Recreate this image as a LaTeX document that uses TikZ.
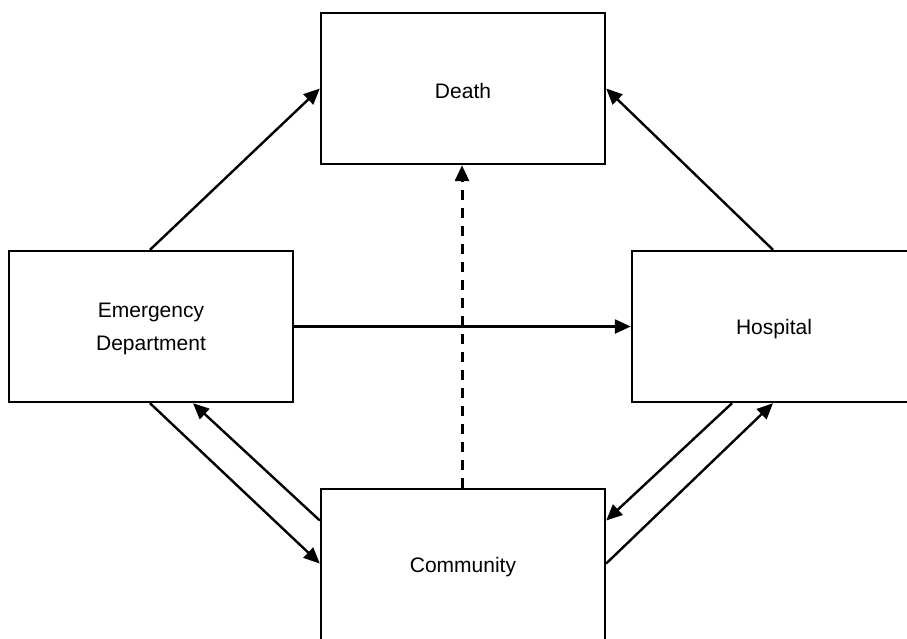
\documentclass[tikz,border=0pt]{standalone}
\usepackage{fontspec}
\setmainfont{Liberation Sans}
\usetikzlibrary{arrows.meta,calc}
\newcommand{\dn}[1]{\raisebox{-2.5pt}[\height][\depth]{#1}}
\tikzset{
  statebox/.style={draw=black, line width=2.4pt, minimum width=284pt, minimum height=151pt,
    inner sep=0pt, align=center, font=\fontsize{21}{33}\selectfont},
  flow/.style={line width=2.4pt, -{Triangle[length=16pt,width=14pt]}},
  dflow/.style={flow, line width=3pt, dash pattern=on 10pt off 8pt}
}
\begin{document}
\begin{tikzpicture}[x=1pt,y=-1pt]
\path[use as bounding box, clip] (0,0) rectangle (907,638);
\fill[white] (0,0) rectangle (907,638);
\node[statebox] (death) at (463,88.5) {\dn{Death}};
\node[statebox] (ed) at (151,326.5) {\dn{Emergency}\\\dn{Department}};
\node[statebox] (hosp) at (774,326.5) {\dn{Hospital}};
\node[statebox] (comm) at (463,564.5) {\dn{Community}};
\draw[flow] ($(ed.north)+(-1,0)$) -- (death.west);
\draw[flow] ($(hosp.north)+(-1,0)$) -- (death.east);
\draw[flow] (ed.east) -- (hosp.west);
\draw[dflow] ($(comm.north)+(-1,0)$) -- ($(death.south)+(-1,0)$);
\draw[flow] ($(ed.south)+(-1,0)$) -- ($(comm.west)+(0,-1)$);
\draw[flow] ($(comm.west)+(0,-44)$) -- ($(ed.south)+(42,0)$);
\draw[flow] ($(hosp.south)+(-42,0)$) -- ($(comm.east)+(0,-44)$);
\draw[flow] ($(comm.east)+(0,-1)$) -- ($(hosp.south)+(-1,0)$);
\end{tikzpicture}
\end{document}
